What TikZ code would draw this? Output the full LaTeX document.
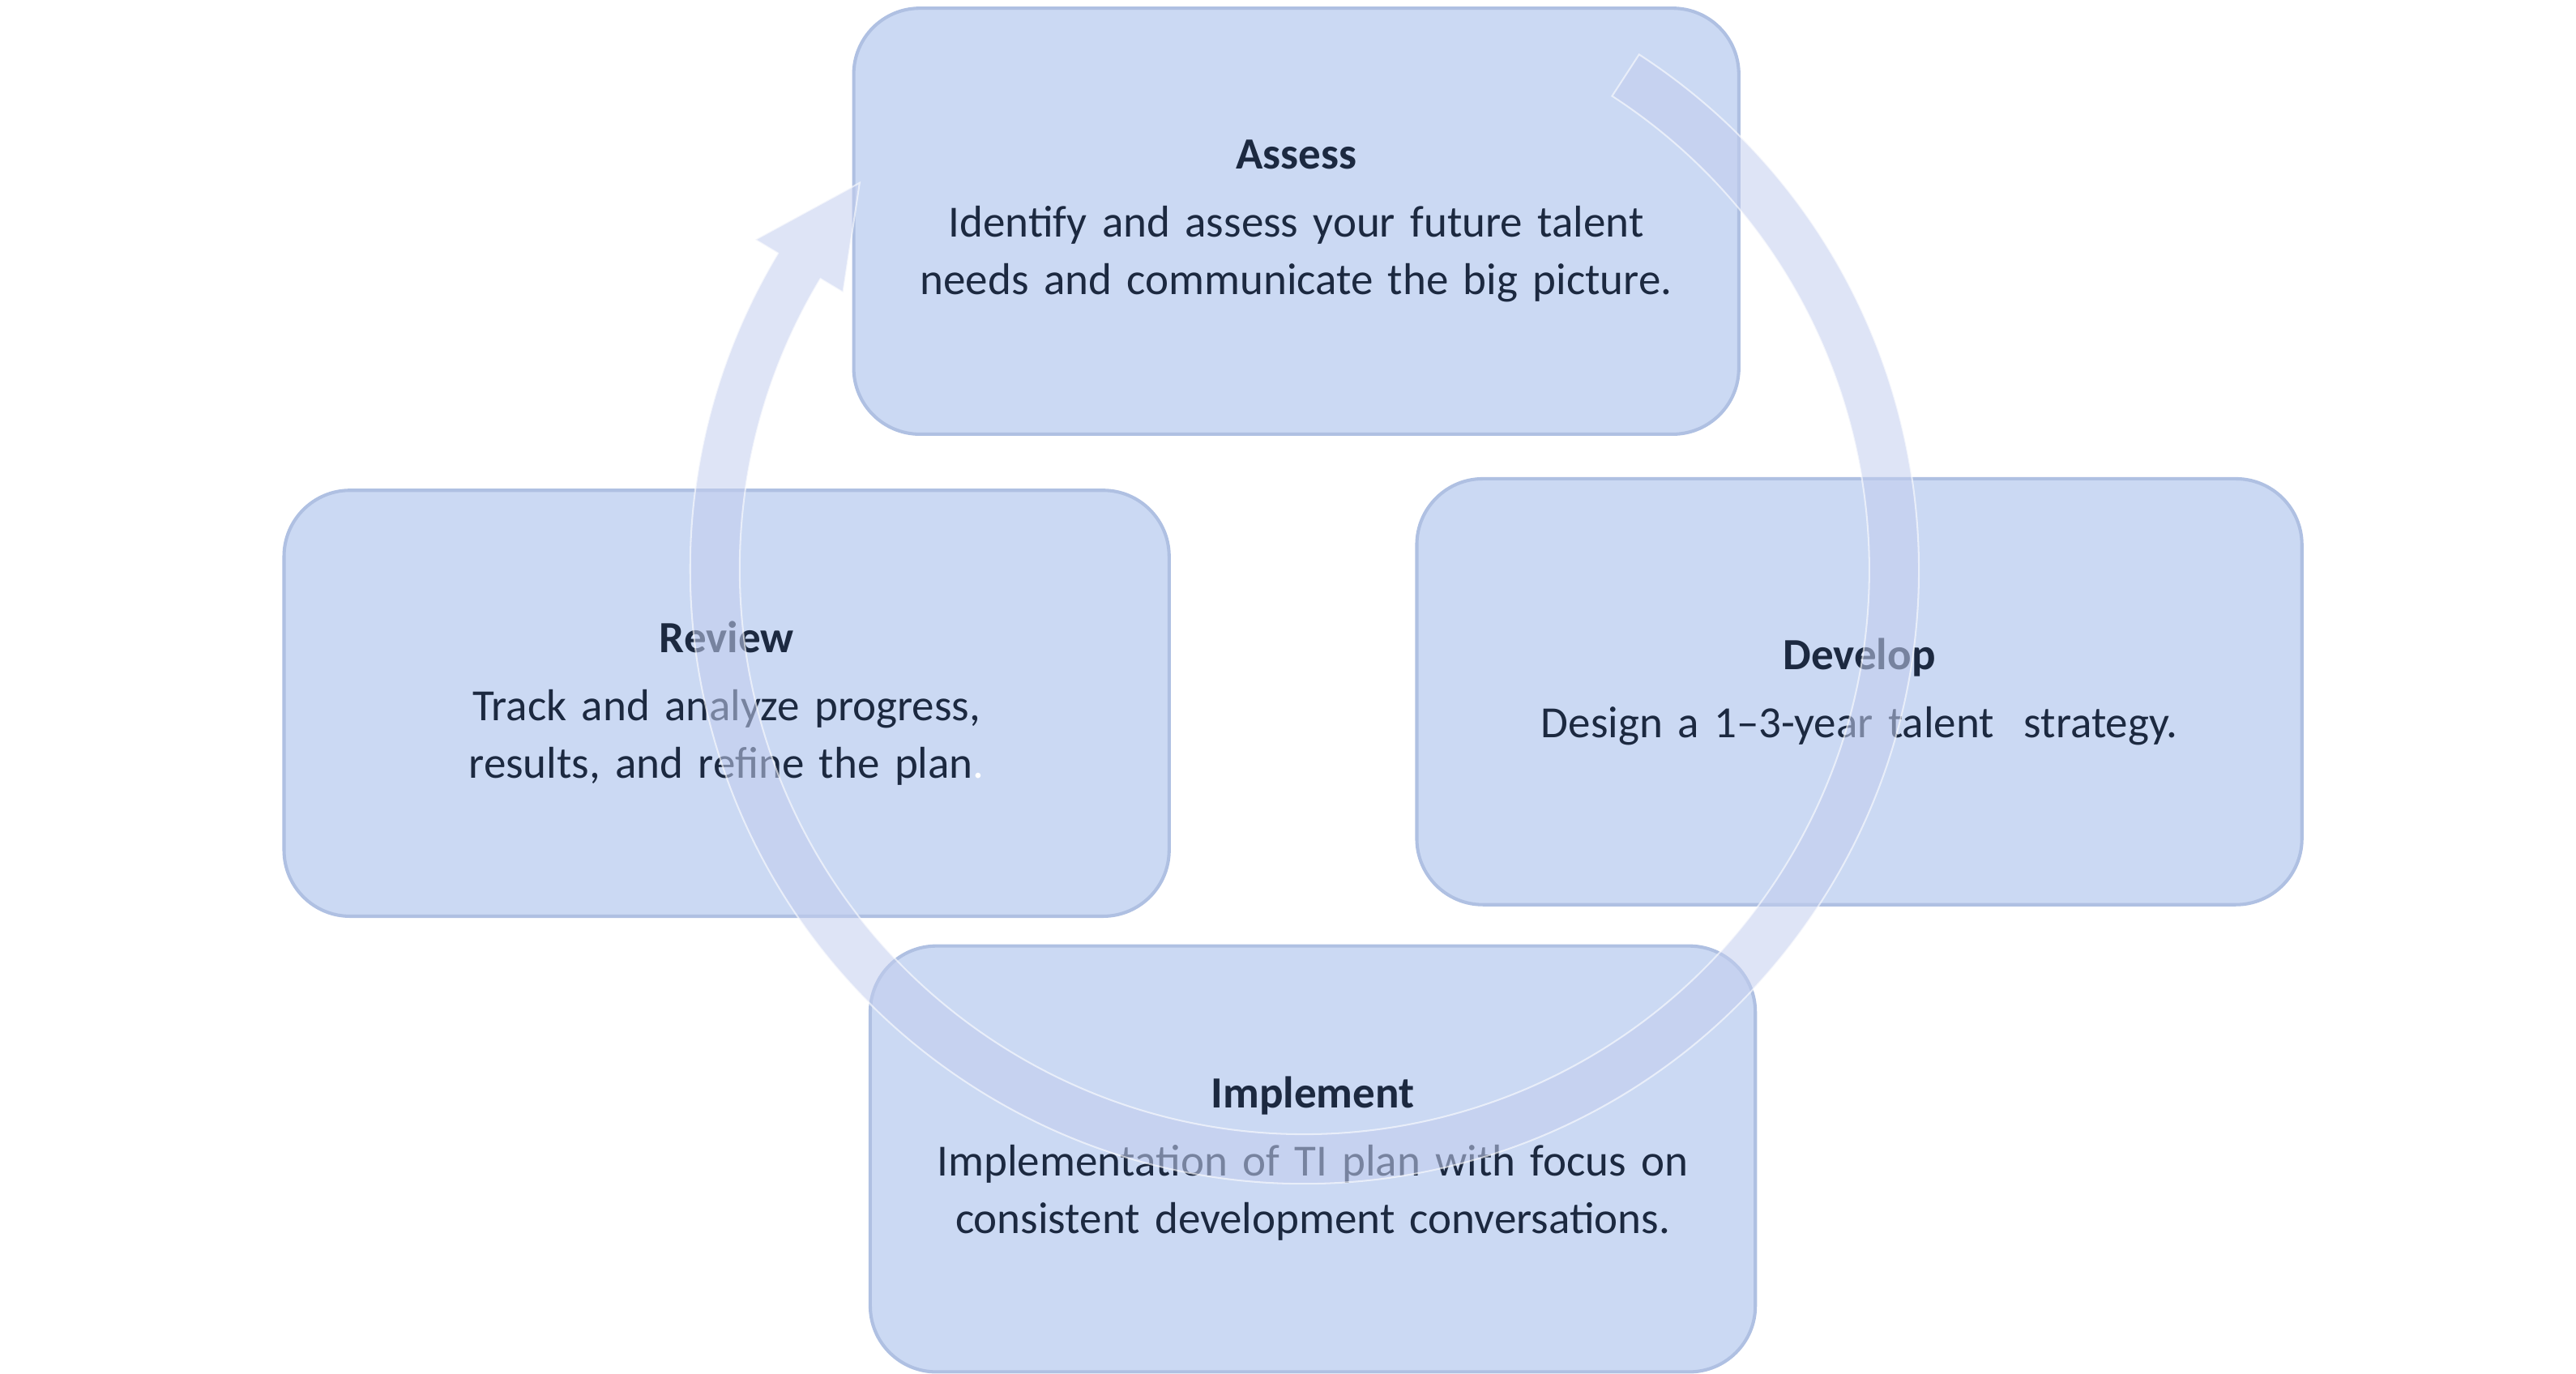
\documentclass[tikz,border=0pt]{standalone}
\usepackage{fontspec}
\setmainfont{Carlito}
\usetikzlibrary{calc}
\definecolor{boxfill}{HTML}{CBD9F3}
\definecolor{boxline}{HTML}{AFC0E2}
\definecolor{navy}{HTML}{1C2940}
\definecolor{band}{HTML}{C3CDEE}
\tikzset{
  stage/.style={draw=boxline,line width=2pt,fill=boxfill,rounded corners=40pt,
    minimum width=536pt,minimum height=258pt,text width=480pt,align=center,
    text=navy,font=\fontsize{27}{35}\selectfont}
}
\begin{document}
\begin{tikzpicture}[x=1pt,y=1pt]
  \useasboundingbox (0,0) rectangle (1560,832);
  \node[stage] (assess) at (785,698) {{\bfseries Assess}\\[6pt]Identify and assess your future talent needs and communicate the big picture.};
  \node[stage] (review) at (440,406) {{\bfseries Review}\\[6pt]Track and analyze progress, results, and refine the plan\textcolor{white}{.}};
  \node[stage] (develop) at (1126,413) {{\bfseries Develop}\\[6pt]Design a 1--3-year talent\ \ strategy.};
  \node[stage] (implement) at (795,130) {{\bfseries Implement}\\[6pt]Implementation of TI plan with focus on consistent development conversations.};
  % circular arrow
  \coordinate (ctr) at (790,487);
  \fill[band,fill opacity=0.55,draw=white,draw opacity=0.6,line width=1pt]
    ($(ctr)+(57:372)$) arc[start angle=57,end angle=-211,radius=372]
    -- ($(ctr)+(-211:388)$) -- ($(ctr)+(-221:357)$)
    -- ($(ctr)+(-211:326)$) -- ($(ctr)+(-211:342)$)
    arc[start angle=-211,end angle=57,radius=342] -- cycle;
\end{tikzpicture}
\end{document}
